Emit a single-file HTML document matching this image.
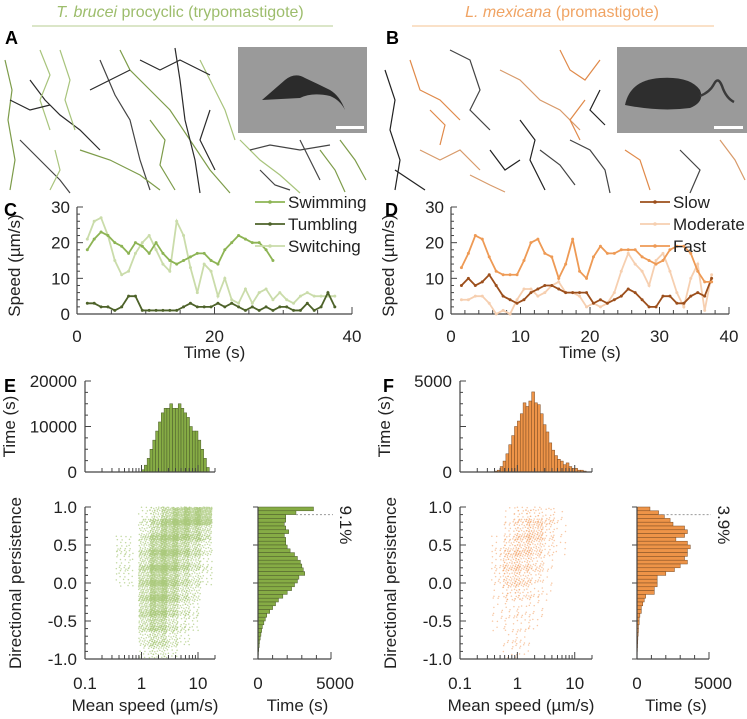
<!DOCTYPE html>
<html><head><meta charset="utf-8"><style>
html,body{margin:0;padding:0;background:#fff;}
svg{display:block;font-family:"Liberation Sans",sans-serif;}
</style></head><body>
<svg id="fig" width="747" height="719" viewBox="0 0 747 719" xmlns="http://www.w3.org/2000/svg">
<g>
<text x="180" y="17" text-anchor="middle" font-size="16" fill="#9dbd6c"><tspan font-style="italic">T. brucei</tspan> procyclic (trypomastigote)</text>
<line x1="32" y1="26" x2="333" y2="26" stroke="#c5d8a8" stroke-width="1.2"/>
</g>
<g>
<text x="562" y="17" text-anchor="middle" font-size="16" fill="#f0a464"><tspan font-style="italic">L. mexicana</tspan> (promastigote)</text>
<line x1="412" y1="26" x2="714" y2="26" stroke="#f6cfa8" stroke-width="1.2"/>
</g>
<text x="5" y="44" font-size="18" font-weight="bold">A</text>
<text x="386" y="44" font-size="18" font-weight="bold">B</text>
<text x="4" y="216" font-size="18" font-weight="bold">C</text>
<text x="385" y="216" font-size="18" font-weight="bold">D</text>
<text x="4" y="392" font-size="18" font-weight="bold">E</text>
<text x="383" y="392" font-size="18" font-weight="bold">F</text>
<g id="tracksA"></g>
<g id="tracksB"></g>
<g>
<rect x="238" y="47" width="129" height="86" fill="#9a9a9a"/>
<path d="M262 100 L285 80 Q295 72 305 78 Q318 84 330 90 Q340 96 345 110 Q340 100 330 96 Q312 92 300 98 Z" fill="#2b2b2b"/>
<rect x="336" y="126" width="28" height="3" fill="#fff"/>
</g>
<g>
<rect x="617" y="47" width="130" height="86" fill="#9a9a9a"/>
<path d="M625 105 Q630 80 660 78 Q690 76 700 90 Q705 102 690 108 Q660 112 625 105 Z" fill="#2e2e2e"/>
<path d="M700 96 Q710 92 714 84 Q718 76 722 86 Q726 98 734 102" fill="none" stroke="#3a3a3a" stroke-width="2.5"/>
<rect x="714" y="126" width="29" height="3" fill="#fff"/>
</g>
<g id="plotC"></g>
<g id="plotD"></g>
<g id="plotE"></g>
<g id="plotF"></g>
</svg>
<script>
// ---------- Data ----------
const times = [1.5,2.5,3.5,4.5,5.5,6.5,7.5,8.5,9.5,10.5,11.5,12.5,13.5,14.5,15.5,16.5,17.5,18.5,19.5,20.5,21.5,22.5,23.5,24.5,25.5,26.5,27.5,28.5,29.5,30.5,31.5,32.5,33.5,34.5,35.5,36.5,37.5];
const swimming = [18,21,23,22,20,19,17,20,19,17,20,17,15,14,15,16,17,17,15,14,18,20,22,21,20,20,18,15];
const switching = [21,26,27,22,15,11,12,17,20,22,18,14,12,26,22,13,6,14,12,5,10,4,3,7,3,6,7,4,6,4,3,5,6,5,5,5,5];
const tumbling = [3,3,2,2,1,2,5,5,1,1,1,1,1,1,2,3,2,2,2,3,2,3,2,1,2,1,2,1,2,2,1,1,3,1,2,6,2];
const fast = [13,17,22,21,16,12,11,11,11,15,20,21,17,16,10,14,21,12,10,16,19,17,17,18,18,18,16,15,14,15,18,19,19,17,12,9,9];
const moderate = [4,4,5,5,3,0,1,0,4,7,7,5,6,8,9,6,6,5,2,3,2,3,6,12,17,14,12,8,15,17,12,6,2,10,14,1,11];
const slow = [8,10,8,9,11,8,5,4,3,4,6,7,8,8,7,6,6,6,6,3,4,3,4,5,7,6,4,2,2,5,5,3,3,5,6,5,10];
const speedTicks = [0,10,20,30];
const timeTicksC = [0,20,40];
const timeTicksD = [0,10,20,30,40];
const eSpeedBinStart = 0.0;
const eSpeedCounts = [500,1500,3000,5000,7000,9000,11000,13000,14000,14000,15000,14000,14000,15000,14000,13000,12000,10000,9000,9000,7000,5000,3000,1000];
const fSpeedBinStart = -0.4;
const fSpeedCounts = [50,100,300,600,1000,1500,2000,2500,2800,3200,3800,3600,3900,4400,3800,3700,3200,2600,2200,1600,1200,900,700,600,400,500,300,200,200,100,100,50];
const ePersCounts = [3800,2600,1900,1900,1800,1900,2100,1800,1900,1900,2000,2200,2500,2700,2900,3000,3100,3200,2800,2700,2500,2300,2000,1700,1400,1200,1000,800,600,500,400,300,250,200,150,100,80,50,30,20];
const fPersCounts = [900,1500,1900,2300,2500,3300,3500,3300,2700,3500,3700,3500,3500,3300,3500,3000,2600,2000,1400,1400,1400,1200,1200,600,500,400,300,300,200,150,150,100,100,80,60,50,40,30,20,10];
const ePercent = "9.1%";
const fPercent = "3.9%";
const eDensity = [
[0,0,0,0,0,1,3,6,9,10,10,0],
[0,0,0,0,0,2,5,8,8,6,4,0],
[0,0,0,1,0,3,7,8,6,4,2,0],
[0,0,0,1,0,4,8,8,5,3,1,0],
[0,0,0,1,0,5,9,7,4,2,1,0],
[0,0,0,0,0,5,9,6,3,2,0,0],
[0,0,0,0,0,5,8,5,2,1,0,0],
[0,0,0,0,0,4,6,3,1,1,0,0],
[0,0,0,0,0,2,4,2,1,0,0,0],
[0,0,0,0,0,1,2,1,0,0,0,0]];
const fDensity = [
[0,0,0,0,1,3,3,2,1,0,0,0],
[0,0,0,0,2,5,7,3,1,0,0,0],
[0,0,0,1,4,6,5,2,1,0,0,0],
[0,0,0,2,6,5,3,1,0,0,0,0],
[0,0,0,2,5,4,2,1,0,0,0,0],
[0,0,0,1,3,3,1,1,0,0,0,0],
[0,0,0,1,1,1,1,0,0,0,0,0],
[0,0,0,1,1,1,1,0,0,0,0,0],
[0,0,0,0,1,1,0,0,0,0,0,0],
[0,0,0,0,1,1,0,0,0,0,0,0]];
const persTicks = [1.0,0.5,0.0,-0.5,-1.0];
const persTickLabels = ["1.0","0.5","0.0","-0.5","-1.0"];
const logTicks = [0.1,1,10];
const logTickLabels = ["0.1","1","10"];

// ---------- helpers ----------
const NS = "http://www.w3.org/2000/svg";
function mk(parent, tag, attrs, name){
  const el = document.createElementNS(NS, tag);
  for (const k in attrs) el.setAttribute(k, attrs[k]);
  
  
  parent.appendChild(el);
  return el;
}
function ln(p,x1,y1,x2,y2,c,w,name){return mk(p,'line',{x1,y1,x2,y2,stroke:c,'stroke-width':w},name);}
function tx(p,x,y,s,opts,name){const t=mk(p,'text',Object.assign({x,y,'font-size':16,fill:'#222'},opts||{}),name);t.textContent=s;return t;}
const AX = '#444';
const FS = 16;

// ---------- tracks (decorative) ----------
const trackA = [
 [[5,60],[12,90],[8,120],[15,160],[10,190]],[[30,80],[45,100],[60,115],[80,130],[100,150]],
 [[60,50],[70,80],[65,100],[75,130]],[[100,60],[115,95],[130,120],[140,160],[150,190]],
 [[120,50],[130,70],[150,90],[170,110],[190,140],[210,170],[230,193]],[[175,48],[180,80],[185,120],[195,160],[200,193]],
 [[200,60],[215,90],[225,110],[235,140]],[[20,140],[40,160],[60,180],[70,193]],
 [[80,150],[110,160],[140,175],[160,190]],[[140,60],[160,70],[180,60],[210,75]],
 [[240,140],[260,160],[280,175],[300,193]],[[300,140],[310,160],[320,180]],[[340,140],[355,160],[366,180]],
 [[90,90],[110,80],[130,70]],[[40,50],[50,75],[40,100],[50,130]],[[250,150],[270,145],[300,150],[330,145]],
 [[150,120],[165,140],[160,165],[175,190]],[[210,110],[200,140],[215,170]],[[55,150],[60,170],[50,190]],
 [[260,170],[275,185],[290,190]],[[320,150],[335,170],[345,192]],[[10,100],[30,110],[50,105]]];
const trackBp = [
 [[385,70],[395,100],[390,130],[400,160],[395,190]],[[410,60],[420,90],[440,100],[460,120]],
 [[450,50],[470,60],[480,90],[470,110],[490,130]],[[500,70],[520,80],[540,100],[560,110],[580,130]],
 [[520,120],[535,140],[530,160],[545,190]],[[560,50],[570,70],[585,80],[600,60]],
 [[570,140],[590,150],[605,170],[610,193]],[[420,150],[440,160],[460,150],[480,170]],
 [[490,150],[505,170],[520,160]],[[625,150],[640,160],[650,190]],[[680,150],[700,170],[690,193]],
 [[720,140],[735,160],[745,180]],[[600,90],[590,110],[605,125]],
 [[430,110],[445,125],[440,145]],[[540,150],[560,165],[575,185]],[[470,175],[490,185],[505,192]],
 [[395,170],[410,180],[425,190]],[[585,100],[570,120],[580,140]]];
function drawTracks(gid, arr, colors, nm){
  const g=document.getElementById(gid);
  arr.forEach((pts,i)=>{
    mk(g,'polyline',{points:pts.map(p=>p.join(',')).join(' '),fill:'none',stroke:colors[i%colors.length],'stroke-width':1.2},nm);
  });
}
drawTracks('tracksA', trackA, ['#7d9c4a','#2a2a2a','#a8c47c','#444'], 'track-a');
drawTracks('tracksB', trackBp, ['#222','#e08a4a','#444','#d89a6a'], 'track-b');

// ---------- speed plots ----------
function speedPlot(gid, x0, x1, xticks, minorStep, series, legendX){
  const g=document.getElementById(gid);
  const y0=314, y1=207;
  const sx=t=>x0+t/40*(x1-x0), sy=v=>y0-v/30*(y0-y1);
  ln(g,x0,y0,x1,y0,AX,1.2,'x-axis');
  ln(g,x0,y0,x0,y1,AX,1.2,'y-axis');
  for(let v=0;v<=30;v+=2){ln(g,x0,sy(v),x0+(v%10===0?6:3),sy(v),AX,1,'y-tick');}
  for(let t=0;t<=40;t+=minorStep){ln(g,sx(t),y0,sx(t),y0-(xticks.includes(t)?7:4),AX,1,'x-tick');}
  speedTicks.forEach(v=>tx(g,x0-7,sy(v)+6,String(v),{'text-anchor':'end','font-size':FS+1},'y-tick-label'));
  xticks.forEach(t=>tx(g,sx(t),y0+28,String(t),{'text-anchor':'middle','font-size':FS+1},'x-tick-label'));
  tx(g,(x0+x1)/2,y0+44,'Time (s)',{'text-anchor':'middle','font-size':FS+1},'x-axis-title');
  tx(g,0,0,'Speed (µm/s)',{'text-anchor':'middle','font-size':FS+1,transform:`translate(${x0-57},${(y0+y1)/2+5}) rotate(-90)`},'y-axis-title');
  series.forEach((s,k)=>{
    const pts=s.vals.map((v,i)=>[sx(times[i]),sy(v)]);
    mk(g,'polyline',{points:pts.map(p=>p.join(',')).join(' '),fill:'none',stroke:s.c,'stroke-width':1.8},'series-'+s.n.toLowerCase());
    pts.forEach(p=>mk(g,'circle',{cx:p[0],cy:p[1],r:1.5,fill:s.c},'point-'+s.n.toLowerCase()));
  });
  series.forEach((s,k)=>{
    const ly=s.ly;
    ln(g,legendX,ly-5,legendX+30,ly-5,s.c,1.8,'legend-line');
    mk(g,'circle',{cx:legendX+15,cy:ly-5,r:1.8,fill:s.c},'legend-marker');
    tx(g,legendX+33,ly+1,s.n,{'font-size':FS+1},'legend-entry');
  });
}
speedPlot('plotC',77,352,timeTicksC,5,[
 {n:'Switching',vals:switching,c:'#cadcaa',ly:251},
 {n:'Swimming',vals:swimming,c:'#8db454',ly:207},
 {n:'Tumbling',vals:tumbling,c:'#4d6229',ly:229}],255);
speedPlot('plotD',451,729,timeTicksD,2,[
 {n:'Moderate',vals:moderate,c:'#f6cfb0',ly:229},
 {n:'Slow',vals:slow,c:'#9c4f1c',ly:207},
 {n:'Fast',vals:fast,c:'#ee9a55',ly:251}],640);

// ---------- E/F ----------
function efPanel(gid, cfg){
  const g=document.getElementById(gid);
  const {ax, axEnd, hx0, hxEnd, hmax, hmaxLabel, speedStart, speedCounts, persCounts, density, color, edge, dot, dotN, dotOp, pct} = cfg;
  const dec=(axEnd-ax)/Math.log10(200);
  const sx=v=>ax+(Math.log10(v)+1)*dec;
  const lx=l=>ax+(l+1)*dec;
  const yT=507, yB=659, sy=p=>yB-(p+1)/2*(yB-yT);
  const h0=472, hTop=381;
  const hy=v=>h0-v/hmax*(h0-hTop);
  speedCounts.forEach((c,i)=>{
    const l=speedStart+i*0.05;
    mk(g,'rect',{x:lx(l),y:hy(c),width:lx(l+0.05)-lx(l),height:h0-hy(c),fill:color,stroke:edge,'stroke-width':0.5},'speed-hist-bar');
  });
  ln(g,ax,h0,axEnd,h0,AX,1.2,'hist-x-axis');
  ln(g,ax,h0,ax,hTop,AX,1.2,'hist-y-axis');
  for(let k=0;k<=8;k++){const yy=h0-k*(h0-hTop)/8;ln(g,ax,yy,ax+(k%4===0?6:3),yy,AX,1,'hist-y-tick');}
  tx(g,ax-8,h0+6,'0',{'text-anchor':'end','font-size':FS+1},'hist-y-tick-label');
  if(hmax===20000) tx(g,ax-8,(h0+hTop)/2+6,String(hmax/2),{'text-anchor':'end','font-size':FS+1},'hist-y-tick-label');
  tx(g,ax-8,hTop+6,hmaxLabel,{'text-anchor':'end','font-size':FS+1},'hist-y-tick-label');
  tx(g,0,0,'Time (s)',{'text-anchor':'middle','font-size':FS+1,transform:`translate(${ax-70},${(h0+hTop)/2}) rotate(-90)`},'hist-y-axis-title');
  function logTickMarks(y){
    [0.1,1,10].forEach(b=>{for(let m=1;m<10;m++){const v=b*m;if(v>20)break;ln(g,sx(v),y,sx(v),y-(m===1?7:4),AX,1,'log-tick');}});
    ln(g,sx(20),y,sx(20),y-4,AX,1,'log-tick');
  }
  logTickMarks(h0);
  density.forEach((row,r)=>row.forEach((d,c)=>{
    const n=d*dotN;
    const off=(r*7+c*13)*0.137;
    for(let k=0;k<n;k++){
      const fx=(off+k*0.7548776662)%1, fy=(off*1.7+k*0.5698402910)%1;
      const l=-1+c*0.2+0.1+(fx-0.5)*0.3, p=1-r*0.2-0.1+(fy-0.5)*0.28;
      if(l>1.32||p>1||p<-1)continue;
      mk(g,'circle',{cx:lx(l),cy:sy(p),r:0.75,fill:dot,'fill-opacity':dotOp},'scatter-point');
    }
  }));
  ln(g,ax,yB,axEnd,yB,AX,1.2,'scatter-x-axis');
  ln(g,ax,yB,ax,yT,AX,1.2,'scatter-y-axis');
  for(let k=0;k<=20;k++){const yy=yB-k*(yB-yT)/20;ln(g,ax,yy,ax+(k%5===0?6:3),yy,AX,1,'scatter-y-tick');}
  logTickMarks(yB);
  persTicks.forEach((p,i)=>tx(g,ax-8,sy(p)+6,persTickLabels[i],{'text-anchor':'end','font-size':FS+1},'scatter-y-tick-label'));
  logTicks.forEach((v,i)=>tx(g,sx(v),yB+30,logTickLabels[i],{'text-anchor':'middle','font-size':FS+1},'scatter-x-tick-label'));
  tx(g,(ax+axEnd)/2-5,711,'Mean speed (µm/s)',{'text-anchor':'middle','font-size':FS+1},'scatter-x-axis-title');
  tx(g,0,0,'Directional persistence',{'text-anchor':'middle','font-size':FS+1,transform:`translate(${ax-64},${(yT+yB)/2}) rotate(-90)`},'scatter-y-axis-title');
  const shx=v=>hx0+v/5000*(hxEnd-hx0);
  const bh=(yB-yT)/40;
  persCounts.forEach((c,i)=>{
    mk(g,'rect',{x:hx0,y:yT+i*bh,width:shx(c)-hx0,height:bh,fill:color,stroke:edge,'stroke-width':0.5},'pers-hist-bar');
  });
  ln(g,hx0,yB,hxEnd,yB,AX,1.2,'side-x-axis');
  ln(g,hx0,yB,hx0,yT,AX,1.2,'side-y-axis');
  for(let k=0;k<=5;k++){ln(g,shx(k*1000),yB,shx(k*1000),yB-(k%5===0?7:4),AX,1,'side-x-tick');}
  persTicks.forEach(p=>ln(g,hx0,sy(p),hx0-5,sy(p),AX,1,'side-y-tick'));
  tx(g,hx0,yB+30,'0',{'text-anchor':'middle','font-size':FS+1},'side-x-tick-label');
  tx(g,hxEnd+4,yB+30,'5000',{'text-anchor':'middle','font-size':FS+1},'side-x-tick-label');
  tx(g,(hx0+hxEnd)/2+3,711,'Time (s)',{'text-anchor':'middle','font-size':FS+1},'side-x-axis-title');
  mk(g,'line',{x1:shx(persCounts[1]),y1:sy(0.9),x2:hxEnd+2,y2:sy(0.9),stroke:'#999','stroke-width':1,'stroke-dasharray':'2,2'},'percent-guide');
  tx(g,0,0,pct,{'text-anchor':'middle','font-size':FS+1,transform:`translate(${hxEnd+9},${yT+18}) rotate(90)`},'percent-label');
}
efPanel('plotE',{ax:85,axEnd:215,hx0:258,hxEnd:331,hmax:20000,hmaxLabel:'20000',speedStart:eSpeedBinStart,speedCounts:eSpeedCounts,persCounts:ePersCounts,density:eDensity,color:'#86ac45',edge:'#4a5a2a',dot:'#a9c97a',dotN:24,dotOp:0.7,pct:ePercent});
efPanel('plotF',{ax:460,axEnd:592,hx0:637,hxEnd:709,hmax:5000,hmaxLabel:'5000',speedStart:fSpeedBinStart,speedCounts:fSpeedCounts,persCounts:fPersCounts,density:fDensity,color:'#ee9448',edge:'#7a4a22',dot:'#f3a56a',dotN:10,dotOp:0.6,pct:fPercent});
</script>
</body></html>
